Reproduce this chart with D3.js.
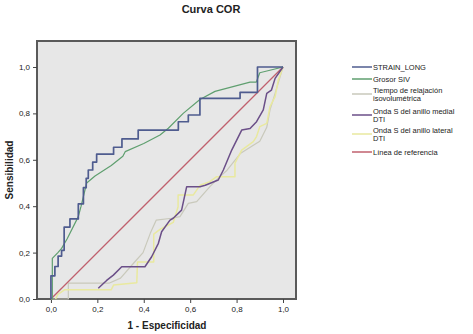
<!DOCTYPE html>
<html lang="es">
<head>
<meta charset="UTF-8">
<title>Curva COR</title>
<script src="https://d3js.org/d3.v7.min.js"></script>
<style>
  body { margin: 0; background: #fff; }
  text { font-family: "Liberation Sans", Arial, sans-serif; fill: #222; }
  .title { font-size: 11px; font-weight: bold; }
  .axis-label { font-size: 10px; font-weight: bold; }
  .tick text { font-size: 8px; }
  .legend text { font-size: 7.5px; }
  .curve { fill: none; stroke-linejoin: round; }
</style>
</head>
<body>
<div id="chart"></div>
<script>
// series: [1 - especificidad, sensibilidad]
var seriesNames = ["STRAIN_LONG", "Grosor SIV", "Tiempo de relajación isovolumétrica",
                   "Onda S del anillo medial DTI", "Onda S del anillo lateral DTI", "Línea de referencia"];
var seriesColors = ["#4f5c8f", "#5f9f6f", "#c9c9bb", "#6b4f88", "#e9e99f", "#c0606e"];
var seriesWidths = [1.7, 1.2, 1.2, 1.5, 1.5, 1.3];

var strainLong = [[0,0],[0,0.10],[0.017,0.10],[0.017,0.14],[0.031,0.14],[0.031,0.185],[0.046,0.185],[0.046,0.21],
  [0.057,0.21],[0.057,0.31],[0.082,0.31],[0.082,0.345],[0.118,0.345],[0.118,0.41],[0.14,0.41],[0.14,0.48],
  [0.152,0.48],[0.152,0.52],[0.161,0.52],[0.161,0.556],[0.18,0.556],[0.18,0.59],[0.197,0.59],[0.197,0.624],
  [0.27,0.624],[0.27,0.654],[0.306,0.654],[0.306,0.69],[0.376,0.69],[0.376,0.728],[0.549,0.728],[0.549,0.764],
  [0.592,0.764],[0.592,0.793],[0.642,0.793],[0.642,0.865],[0.815,0.865],[0.815,0.891],[0.89,0.891],[0.89,1],[1,1]];
var grosorSiv = [[0,0],[0.006,0],[0.006,0.175],[0.03,0.2],[0.046,0.218],[0.07,0.26],[0.118,0.355],[0.13,0.4],
  [0.154,0.5],[0.19,0.53],[0.26,0.575],[0.31,0.615],[0.32,0.635],[0.40,0.67],[0.47,0.707],[0.506,0.736],
  [0.57,0.8],[0.642,0.86],[0.707,0.895],[0.858,0.935],[0.885,0.935],[0.9,0.975],[1,1]];
var tiempoRelajacion = [[0,0],[0.075,0],[0.075,0.068],[0.25,0.068],[0.3,0.09],[0.356,0.154],[0.397,0.2],
  [0.428,0.283],[0.454,0.34],[0.52,0.348],[0.556,0.355],[0.592,0.412],[0.628,0.42],[0.685,0.484],[0.72,0.52],
  [0.759,0.555],[0.816,0.627],[0.874,0.664],[0.9,0.68],[0.93,0.74],[0.944,0.815],[0.966,0.886],[1,1]];
var ondaMedial = [[0.204,0.046],[0.24,0.08],[0.269,0.103],[0.305,0.139],[0.405,0.139],[0.434,0.182],[0.463,0.24],
  [0.477,0.29],[0.513,0.34],[0.527,0.348],[0.563,0.383],[0.585,0.484],[0.642,0.484],[0.665,0.49],[0.721,0.513],
  [0.743,0.556],[0.779,0.642],[0.822,0.728],[0.858,0.735],[0.886,0.764],[0.915,0.815],[0.93,0.886],[0.95,0.9],
  [0.966,0.951],[1,1]];
var ondaLateral = [[0.02,0],[0.03,0.02],[0.06,0.04],[0.26,0.04],[0.27,0.06],[0.37,0.07],[0.373,0.16],[0.443,0.16],
  [0.443,0.28],[0.47,0.3],[0.506,0.319],[0.527,0.33],[0.548,0.398],[0.548,0.448],[0.613,0.448],[0.642,0.49],
  [0.685,0.506],[0.714,0.527],[0.793,0.527],[0.793,0.585],[0.822,0.642],[0.872,0.678],[0.886,0.7],[0.9,0.743],
  [0.93,0.757],[0.944,0.829],[0.966,0.872],[0.98,0.944],[1,1]];
var referencia = [[0,0],[1,1]];
var seriesData = [strainLong, grosorSiv, tiempoRelajacion, ondaMedial, ondaLateral, referencia];
var tickValues = [0, 0.2, 0.4, 0.6, 0.8, 1.0];

var width = 473, height = 334;
var svg = d3.select("#chart").append("svg")
  .attr("width", width).attr("height", height);

var x = d3.scaleLinear().domain([-0.06, 1.056]).range([37, 296]);
var y = d3.scaleLinear().domain([0, 1.112]).range([299, 41]);
var fmt = function(d) { return d3.format(".1f")(d).replace(".", ","); };

// plot area
svg.append("rect")
  .attr("x", x(-0.06)).attr("y", y(1.112))
  .attr("width", x(1.056) - x(-0.06)).attr("height", y(0) - y(1.112))
  .attr("fill", "#e7e7e7").attr("stroke", "#5a5a5a").attr("stroke-width", 2);

// axes
var xAxis = svg.append("g").attr("transform", "translate(0," + y(0) + ")")
  .call(d3.axisBottom(x).tickValues(tickValues).tickFormat(fmt).tickSize(4).tickPadding(3));
var yAxis = svg.append("g").attr("transform", "translate(" + x(-0.06) + ",0)")
  .call(d3.axisLeft(y).tickValues(tickValues).tickFormat(fmt).tickSize(4).tickPadding(3));
[xAxis, yAxis].forEach(function(a) {
  a.select(".domain").remove();
  a.selectAll(".tick line").attr("stroke", "#444");
});

// curves
var line = d3.line().x(function(d) { return x(d[0]); }).y(function(d) { return y(d[1]); });
var drawOrder = [2, 4, 5, 3, 1, 0];
drawOrder.forEach(function(i) {
  svg.append("path").datum(seriesData[i]).attr("class", "curve")
    .attr("stroke", seriesColors[i]).attr("stroke-width", seriesWidths[i]).attr("d", line);
});

// titles
svg.append("text").attr("class", "title").attr("x", 211).attr("y", 13)
  .attr("text-anchor", "middle").text("Curva COR");
svg.append("text").attr("class", "axis-label").attr("x", 167).attr("y", 329)
  .attr("text-anchor", "middle").text("1 - Especificidad");
svg.append("text").attr("class", "axis-label")
  .attr("transform", "translate(13," + ((y(0) + y(1.112)) / 2) + ") rotate(-90)")
  .attr("text-anchor", "middle").text("Sensibilidad");

// legend
var legendLines = [["STRAIN_LONG"], ["Grosor SIV"], ["Tiempo de relajación", "isovolumétrica"],
  ["Onda S del anillo medial", "DTI"], ["Onda S del anillo lateral", "DTI"], ["Línea de referencia"]];
var legendY = [67, 79, 94, 115, 134, 152];
var legend = svg.append("g").attr("class", "legend");
legendLines.forEach(function(lines, i) {
  var cy = legendY[i];
  legend.append("line").attr("x1", 352).attr("x2", 372).attr("y1", cy).attr("y2", cy)
    .attr("stroke", seriesColors[i]).attr("stroke-width", 1.5);
  var top = cy - (lines.length - 1) * 3.9;
  lines.forEach(function(t, j) {
    legend.append("text").attr("x", 373).attr("y", top + j * 7.8 + 3).text(t);
  });
});
</script>
</body>
</html>
